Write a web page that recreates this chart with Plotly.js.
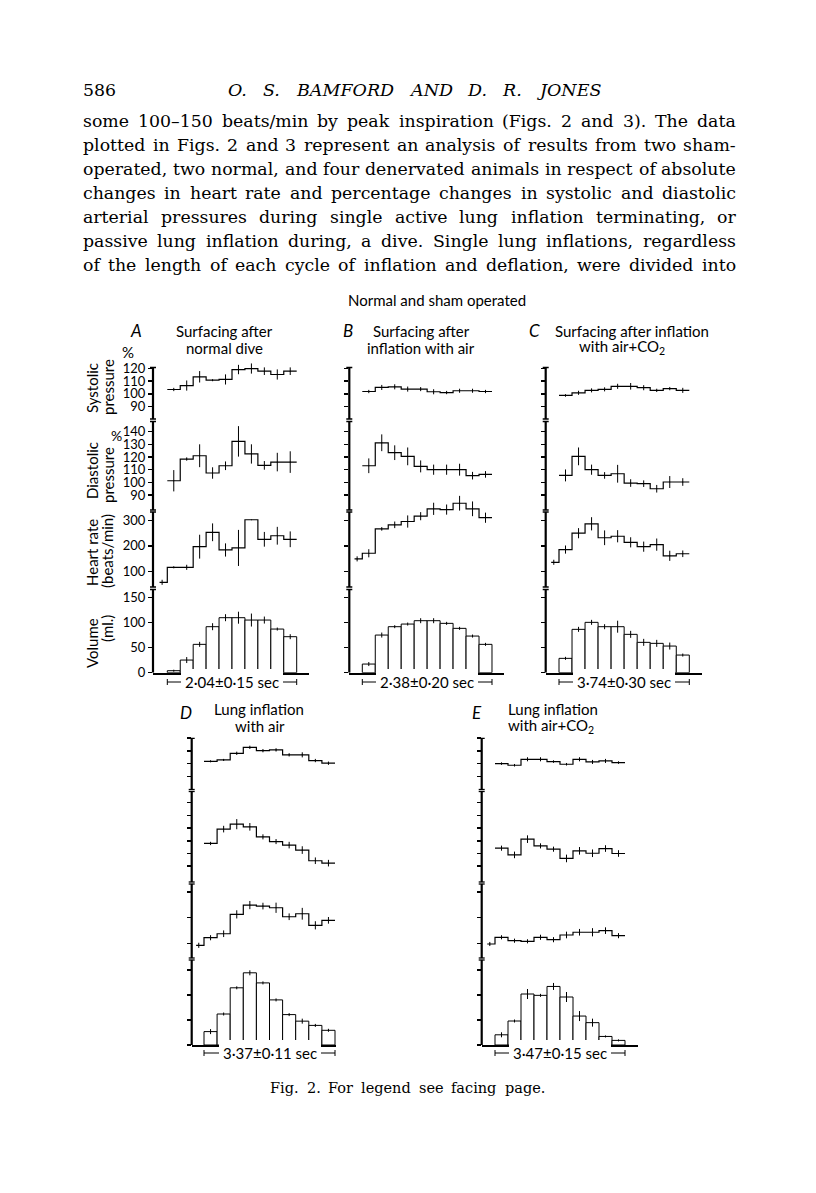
<!DOCTYPE html>
<html>
<head>
<meta charset="utf-8">
<script src="https://cdn.plot.ly/plotly-3.0.1.min.js"></script>
<style>
  html, body { margin: 0; padding: 0; background: #fff; }
  #fig { width: 816px; height: 1193px; }
</style>
</head>
<body>
<div id="fig"></div>
<script>
// ---- data ----
// systolic / diastolic pressure (% of control), 10 bins of the inflation cycle
var sysA = [103.4, 106.5, 113.4, 110.7, 111.3, 119.1, 119.9, 117.8, 115.2, 117.8];
var sysErrA = [1.3, 4, 4.5, 0.8, 4, 3.7, 4, 3, 4, 3];
var diaA = [101.3, 118.4, 121, 107.4, 113.1, 132.3, 122.4, 113.4, 116, 116];
var diaErrA = [8.4, 1.3, 9, 4.5, 3.4, 12, 7.6, 3.4, 7.3, 8.5];
// heart rate: first value is the control before inflation
var hrA = [56.7, 115.7, 115.7, 197, 253.6, 184, 192, 303, 226, 240, 226];
var hrErrA = [10, 4, 10, 47, 35, 26, 71, 0, 29, 35, 31];
var volA = [4, 25.3, 56.7, 92, 110, 110, 105.3, 105.3, 87.3, 72];
var volErrA = [2, 6, 5, 7, 7, 12, 13, 7, 3, 5];

var sysB = [101.8, 105, 105.5, 103.7, 103.7, 101.6, 101, 102.4, 102.4, 101.8];
var sysErrB = [1.3, 2, 2, 2, 1.6, 2, 1.3, 1.6, 1.6, 1.3];
var diaB = [113.1, 131.2, 123.4, 120.5, 112.6, 110, 110, 110, 105.3, 106.3];
var diaErrB = [5.8, 6.6, 5.8, 7, 4.7, 4, 4, 4.7, 3, 2.6];
var hrB = [148.9, 171, 267, 283, 296, 317, 346, 343, 368, 346, 311];
var hrErrB = [10, 16, 7, 13, 24, 16, 24, 20, 29, 29, 20];
var volB = [17.3, 75.3, 92, 97.3, 104, 104, 98.7, 88.7, 73.3, 56.7];
var volErrB = [4, 5, 3, 3, 5, 5, 3, 3, 3, 3];

var sysC = [98.7, 100.8, 102.7, 103.5, 105.9, 105.9, 104.8, 102.7, 104.1, 102.7];
var sysErrC = [1, 1.6, 1.6, 1.6, 2, 2.6, 2, 1.3, 1.3, 2];
var diaC = [105.5, 120.5, 110, 105.5, 106.8, 99.5, 99, 95, 100.3, 100.3];
var diaErrC = [4.7, 7, 4, 2.6, 7, 3, 2.6, 3, 4.7, 3];
var hrC = [135.5, 185.6, 250, 287, 232, 238, 214, 197, 205, 161, 169];
var hrErrC = [10, 16, 20, 26, 29, 24, 20, 20, 24, 20, 13];
var volC = [28.7, 86.7, 100.7, 92, 92, 76.7, 60.7, 58.7, 53.3, 35.3];
var volErrC = [3, 5, 5, 5, 12, 7, 7, 7, 7, 3];

var sysD = [101.8, 102.9, 108.1, 112.8, 110.2, 110.8, 106.9, 106.9, 102.4, 100.3];
var sysErrD = [0.8, 0.8, 1.3, 1.3, 1.3, 1.3, 1.3, 2, 1.3, 1.3];
var diaD = [107.9, 119.2, 123.1, 121, 113.1, 109.4, 106.6, 102.7, 94.3, 92.4];
var diaErrD = [1.3, 2.6, 4, 3, 2, 2, 2.6, 3, 2.6, 2.6];
var hrD = [92.2, 121.8, 137.4, 213, 249.3, 245.4, 238.8, 203.7, 215.4, 170.2, 189.7];
var hrErrD = [10, 10, 13, 16, 16, 13, 20, 13, 23, 16, 13];
var volD = [26.8, 62, 114.4, 144.4, 124.2, 90.2, 60.8, 47.7, 39.2, 29.4];
var volErrD = [5, 3, 3, 5, 3, 3, 3, 5, 3, 3];

var sysE = [100, 98.7, 103.4, 103.4, 101.6, 99.5, 103.4, 101.3, 102.1, 100.8];
var sysErrE = [1, 1, 1.6, 1.6, 1, 1, 1.6, 1.6, 1.6, 1];
var diaE = [104.2, 98.9, 111.3, 106, 103.4, 96.1, 102.1, 100.2, 103.9, 100];
var diaErrE = [2, 2.6, 3, 2, 2, 3, 3, 3, 2.6, 2.6];
var hrE = [97.3, 123.5, 110.2, 107.8, 123.5, 114.1, 132.5, 143.1, 143.1, 149.4, 129.8];
var hrErrE = [8, 8, 8, 8, 10, 10, 13, 13, 16, 13, 10];
var volE = [20.4, 48, 102, 99.3, 117.1, 96, 57.9, 44.7, 17.1, 9.2];
var volErrE = [5, 3, 10, 3, 7, 10, 10, 8, 2, 2];

var panelLetters = ['A', 'B', 'C', 'D', 'E'];
var panelTitles = [
  ['Surfacing after', 'normal dive'],
  ['Surfacing after', 'inflation with air'],
  ['Surfacing after inflation', 'with air+CO<sub>2</sub>'],
  ['Lung inflation', 'with air'],
  ['Lung inflation', 'with air+CO<sub>2</sub>']
];
var cycleLabels = ['2·04±0·15 sec', '2·38±0·20 sec', '3·74±0·30 sec', '3·37±0·11 sec', '3·47±0·15 sec'];
var sysTicks = [90, 100, 110, 120];
var diaTicks = [90, 100, 110, 120, 130, 140];
var hrTicks = [100, 200, 300];
var volTicks = [0, 50, 100, 150];

var bodyLines = [
  'some 100–150 beats/min by peak inspiration (Figs. 2 and 3). The data',
  'plotted in Figs. 2 and 3 represent an analysis of results from two sham-',
  'operated, two normal, and four denervated animals in respect of absolute',
  'changes in heart rate and percentage changes in systolic and diastolic',
  'arterial pressures during single active lung inflation terminating, or',
  'passive lung inflation during, a dive. Single lung inflations, regardless',
  'of the length of each cycle of inflation and deflation, were divided into'
];

var sysAll = [sysA, sysB, sysC, sysD, sysE];
var sysErrAll = [sysErrA, sysErrB, sysErrC, sysErrD, sysErrE];
var diaAll = [diaA, diaB, diaC, diaD, diaE];
var diaErrAll = [diaErrA, diaErrB, diaErrC, diaErrD, diaErrE];
var hrAll = [hrA, hrB, hrC, hrD, hrE];
var hrErrAll = [hrErrA, hrErrB, hrErrC, hrErrD, hrErrE];
var volAll = [volA, volB, volC, volD, volE];
var volErrAll = [volErrA, volErrB, volErrC, volErrD, volErrE];

// ---- page geometry (pixels) ----
var W = 816, H = 1193;
function fx(px) { return px / W; }
function fy(py) { return 1 - py / H; }

var TOPROW = {
  sys: { top: 367.5, bot: 419, refPx: 393.8, ref: 100, ppu: 1.27 },
  dia: { top: 421.5, bot: 510, refPx: 482.4, ref: 100, ppu: 1.27 },
  hr:  { top: 512, bot: 587, refPx: 571.3, ref: 100, ppu: 0.254 },
  vol: { top: 589.5, bot: 672.7, refPx: 672.7, ref: 0, ppu: 0.5 },
  bracketY: 682
};
var BOTROW = {
  sys: { top: 738.3, bot: 789.5, refPx: 763.6, ref: 100, ppu: 1.27 },
  dia: { top: 791.5, bot: 882, refPx: 853.5, ref: 100, ppu: 1.27 },
  hr:  { top: 884, bot: 958, refPx: 943.3, ref: 100, ppu: 0.256 },
  vol: { top: 960, bot: 1045, refPx: 1045, ref: 0, ppu: 0.5 },
  bracketY: 1053
};
var geom = [
  { axisX: 153, endX: 309.3, bar0: 167.3, bar10: 296.7, rows: TOPROW },
  { axisX: 349.3, endX: 504.3, bar0: 362.3, bar10: 492, rows: TOPROW },
  { axisX: 545.7, endX: 701.7, bar0: 559, bar10: 689.3, rows: TOPROW },
  { axisX: 191.7, endX: 336, bar0: 204, bar10: 335, rows: BOTROW },
  { axisX: 481.7, endX: 637.7, bar0: 495, bar10: 625, rows: BOTROW }
];
var CTRL_X = -0.6;

function valAt(r, py) { return r.ref + (r.refPx - py) / r.ppu; }

var sansFont = 'Lato, "Open Sans", sans-serif';
var serifFont = '"DejaVu Serif", serif';

var traces = [];
var shapes = [];
var annotations = [];
var layout = {
  width: W, height: H,
  margin: { l: 0, r: 0, t: 0, b: 0 },
  paper_bgcolor: 'white',
  plot_bgcolor: 'rgba(0,0,0,0)',
  showlegend: false,
  font: { family: sansFont, color: 'black' }
};

var edges = [0, 1, 2, 3, 4, 5, 6, 7, 8, 9, 10];
var centers = [0.5, 1.5, 2.5, 3.5, 4.5, 5.5, 6.5, 7.5, 8.5, 9.5];

function stepTrace(xs, vals, xa, ya) {
  return {
    type: 'scatter', mode: 'lines', x: xs, y: vals.concat([vals[vals.length - 1]]),
    line: { shape: 'hv', color: 'black', width: 1.2 },
    xaxis: xa, yaxis: ya, hoverinfo: 'skip'
  };
}
function errTrace(xs, vals, errs, xa, ya) {
  return {
    type: 'scatter', mode: 'markers', x: xs, y: vals,
    marker: { size: 1, color: 'black' },
    error_y: { type: 'data', array: errs, visible: true, color: 'black', thickness: 1, width: 0 },
    xaxis: xa, yaxis: ya, hoverinfo: 'skip'
  };
}

geom.forEach(function (g, p) {
  var xi = p + 1;
  var xName = xi === 1 ? 'xaxis' : 'xaxis' + xi;
  var xa = 'x' + (xi === 1 ? '' : xi);
  var bw = (g.bar10 - g.bar0) / 10;
  var rows = g.rows;
  var domTop = rows.sys.top - 6;
  var domBot = rows.vol.bot;
  var rowKeys = ['sys', 'dia', 'hr', 'vol'];
  var tickSets = [sysTicks, diaTicks, hrTicks, volTicks];
  var yIds = [];

  rowKeys.forEach(function (k, r) {
    var yi = p * 4 + r + 1;
    var yName = yi === 1 ? 'yaxis' : 'yaxis' + yi;
    var ya = 'y' + (yi === 1 ? '' : yi);
    yIds.push(ya);
    var row = rows[k];
    layout[yName] = {
      domain: [fy(domBot), fy(domTop)],
      range: [valAt(row, domBot), valAt(row, domTop)],
      anchor: xa,
      showline: false, showgrid: false, zeroline: false,
      ticks: 'outside', ticklen: 4, tickwidth: 1.5, tickcolor: 'black',
      tickmode: 'array', tickvals: tickSets[r],
      showticklabels: p === 0,
      tickfont: { family: sansFont, size: 13, color: 'black' },
      fixedrange: true
    };
    // visible axis segment for this row
    shapes.push({
      type: 'line', xref: xa + ' domain', yref: ya,
      x0: 0, x1: 0, y0: valAt(row, row.bot), y1: valAt(row, row.top),
      line: { color: 'black', width: 2.2 }
    });
    // break marks at the ends of each segment
    var capW = 3 / (g.endX - g.axisX);
    [row.top, row.bot].forEach(function (py) {
      if (k === 'vol' && py === row.bot) return;
      shapes.push({
        type: 'line', xref: xa + ' domain', yref: ya,
        x0: -capW, x1: capW, y0: valAt(row, py), y1: valAt(row, py),
        line: { color: 'black', width: 1.3 }
      });
    });
  });

  layout[xName] = {
    domain: [fx(g.axisX), fx(g.endX)],
    range: [-(g.bar0 - g.axisX) / bw, 10 + (g.endX - g.bar10) / bw],
    anchor: yIds[3],
    showline: true, linewidth: 2, linecolor: 'black',
    showgrid: false, zeroline: false, ticks: '', showticklabels: false,
    fixedrange: true
  };

  // systolic
  traces.push(stepTrace(edges, sysAll[p], xa, yIds[0]));
  traces.push(errTrace(centers, sysAll[p], sysErrAll[p], xa, yIds[0]));
  // diastolic
  traces.push(stepTrace(edges, diaAll[p], xa, yIds[1]));
  traces.push(errTrace(centers, diaAll[p], diaErrAll[p], xa, yIds[1]));
  // heart rate (control + 10 bins)
  traces.push(stepTrace([CTRL_X].concat(edges), hrAll[p], xa, yIds[2]));
  traces.push(errTrace([CTRL_X + 0.2].concat(centers), hrAll[p], hrErrAll[p], xa, yIds[2]));
  // volume bars
  traces.push({
    type: 'bar', x: centers, y: volAll[p], width: 1,
    marker: { color: 'white', line: { color: 'black', width: 1 } },
    error_y: { type: 'data', array: volErrAll[p], visible: true, color: 'black', thickness: 1, width: 0 },
    xaxis: xa, yaxis: yIds[3], hoverinfo: 'skip'
  });

  // duration bracket under the bars
  var by = rows.bracketY;
  shapes.push({ type: 'line', xref: xa, yref: 'paper', x0: 0, x1: 10, y0: fy(by), y1: fy(by), line: { color: 'black', width: 1 } });
  [0, 10].forEach(function (xv) {
    shapes.push({ type: 'line', xref: xa, yref: 'paper', x0: xv, x1: xv, y0: fy(by - 3), y1: fy(by + 3), line: { color: 'black', width: 1 } });
  });
  annotations.push({
    xref: xa, yref: 'paper', x: 5, y: fy(by), text: cycleLabels[p],
    xanchor: 'center', yanchor: 'middle',
    showarrow: false, bgcolor: 'white', borderpad: 4, borderwidth: 0,
    font: { family: sansFont, size: 15, color: 'black' }
  });
});

// ---- figure labels ----
function lab(text, x, y, size, opts) {
  var a = {
    xref: 'paper', yref: 'paper', x: fx(x), y: fy(y), text: text,
    showarrow: false, borderpad: 0, borderwidth: 0,
    xanchor: 'center', yanchor: 'middle',
    font: { family: sansFont, size: size, color: 'black' }
  };
  for (var k in (opts || {})) a[k] = opts[k];
  annotations.push(a);
}
lab('Normal and sham operated', 437, 300, 15);
var letterPos = [[136, 330], [348, 330], [534, 330], [186, 712], [477, 712]];
var titlePos = [[224, 331, 224, 348], [421, 331, 421, 348], [632, 331, 622, 347], [259, 709, 260, 726], [553, 709, 551, 726]];
panelLetters.forEach(function (l, i) {
  lab('<i>' + l + '</i>', letterPos[i][0], letterPos[i][1], 17);
  lab(panelTitles[i][0], titlePos[i][0], titlePos[i][1], 15);
  lab(panelTitles[i][1], titlePos[i][2], titlePos[i][3], 15);
});
// y-axis titles of panel A
lab('Systolic', 92, 388, 15, { textangle: -90 });
lab('pressure', 108, 387, 15, { textangle: -90 });
lab('%', 128, 352, 15);
lab('Diastolic', 92, 471, 15, { textangle: -90 });
lab('pressure', 108, 475, 15, { textangle: -90 });
lab('%', 117, 435, 14);
lab('Heart rate', 92, 553, 15, { textangle: -90 });
lab('(beats/min)', 107, 551, 15, { textangle: -90 });
lab('Volume', 92, 643, 15, { textangle: -90 });
lab('(ml.)', 107, 629, 15, { textangle: -90 });

// ---- page text, justified word by word ----
var ctx = document.createElement('canvas').getContext('2d');
function fontStr(size, style) { return (style ? style + ' ' : '') + size + 'px "DejaVu Serif"'; }
function fitSize(lines, target, base, style, maxSize) {
  ctx.font = fontStr(base, style);
  var widest = Math.max.apply(null, lines.map(function (l) { return ctx.measureText(l).width; }));
  return Math.min(maxSize, base * target / widest);
}
function justify(line, x0, x1, y, size, style) {
  ctx.font = fontStr(size, style);
  var words = line.split(' ');
  var widths = words.map(function (w) { return ctx.measureText(w).width; });
  var total = widths.reduce(function (s, v) { return s + v; }, 0);
  var gap = words.length > 1 ? (x1 - x0 - total) / (words.length - 1) : 0;
  var x = x0;
  words.forEach(function (w, i) {
    annotations.push({
      xref: 'paper', yref: 'paper', x: fx(x), y: fy(y), text: style === 'italic' ? '<i>' + w + '</i>' : w,
      showarrow: false, borderpad: 0, borderwidth: 0, xanchor: 'left', yanchor: 'middle',
      font: { family: serifFont, size: size, color: 'black' }
    });
    x += widths[i] + gap;
  });
}
var bodySize = fitSize(bodyLines, 650, 16, '', 19);
var headSize = fitSize(['O. S. BAMFORD AND D. R. JONES'], 330, 16, 'italic', 17.5);
var capSize = fitSize(['Fig. 2. For legend see facing page.'], 268, 14, '', 14.5);

annotations.push({
  xref: 'paper', yref: 'paper', x: fx(83), y: fy(90), text: '586',
  showarrow: false, borderpad: 0, borderwidth: 0, xanchor: 'left', yanchor: 'middle',
  font: { family: serifFont, size: bodySize, color: 'black' }
});
justify('O. S. BAMFORD AND D. R. JONES', 228, 598, 90, headSize, 'italic');
bodyLines.forEach(function (l, i) { justify(l, 83, 736, 121 + 24 * i, bodySize); });
justify('Fig. 2. For legend see facing page.', 270, 545, 1088, capSize);

layout.shapes = shapes;
layout.annotations = annotations;

Plotly.newPlot('fig', traces, layout, { staticPlot: true, displayModeBar: false });
</script>
</body>
</html>
